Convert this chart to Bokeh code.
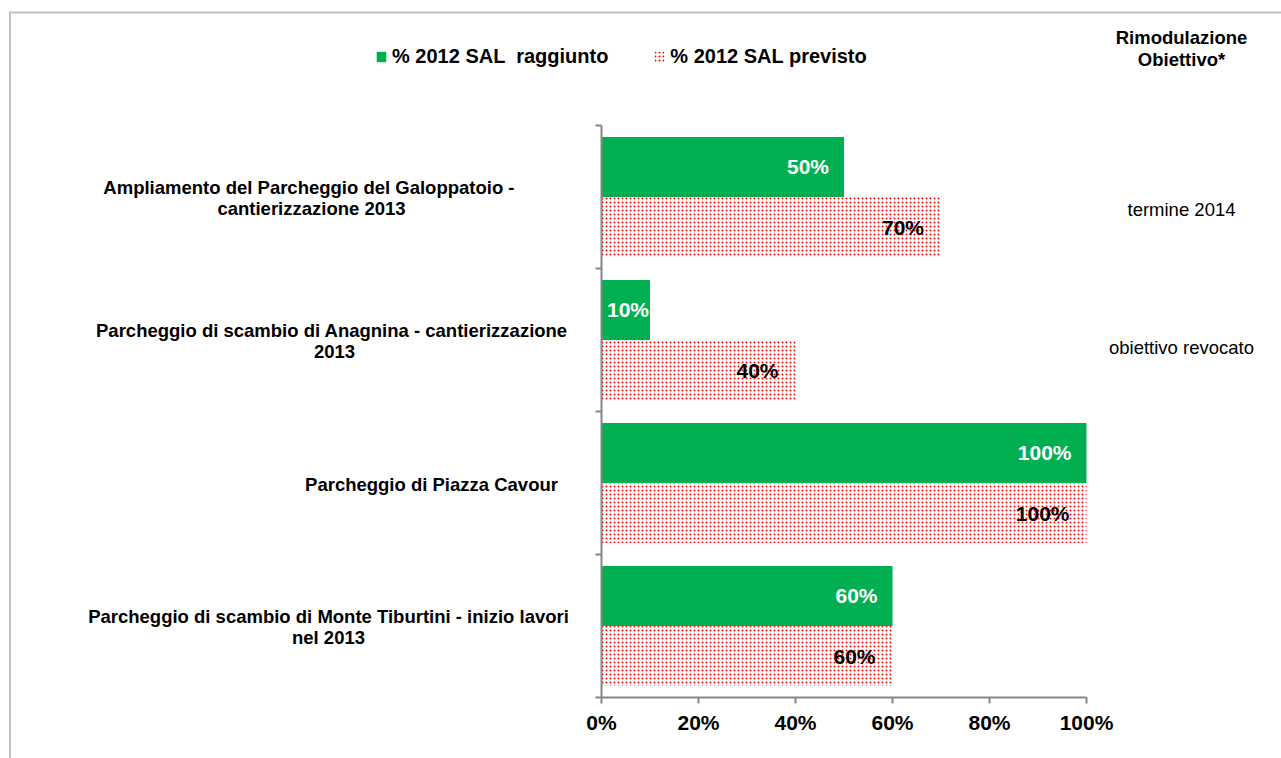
from bokeh.plotting import figure
from bokeh.models import (Range1d, FixedTicker, Legend, LegendItem,
                          ColumnDataSource)
from bokeh.core.properties import value
from bokeh.embed import file_html
from bokeh.resources import INLINE

# ---- data ----
categories = [
    ["Ampliamento del Parcheggio del Galoppatoio  -", "cantierizzazione 2013"],
    ["Parcheggio di scambio di Anagnina  - cantierizzazione", "2013"],
    ["Parcheggio di Piazza Cavour"],
    ["Parcheggio di scambio di Monte Tiburtini - inizio lavori", "nel 2013"],
]
sal_raggiunto = [0.50, 0.10, 1.00, 0.60]
sal_previsto = [0.70, 0.40, 1.00, 0.60]
rimodulazione = ["termine 2014", "obiettivo revocato"]
x_ticks = [0, 0.2, 0.4, 0.6, 0.8, 1.0]
series_names = ["% 2012 SAL  raggiunto", "% 2012 SAL previsto"]
right_header = ["Rimodulazione", "Obiettivo*"]

# ---- layout constants (pixels) ----
FONT = "Liberation Sans"
GREEN = "#00b050"
RED = "#ff0000"
AXIS = "#868686"
FRAME = "#c0c0c0"
W, H = 1281, 758
X0, XPX = 601, 485          # pixel of 0%, pixels per 100%
Y0, YPX = 125, 143          # pixel of top of category band, pixels per band
n = len(categories)

def px_x(px):
    return (px - X0) / XPX

def px_y(py):
    return (py - Y0) / YPX

p = figure(width=W, height=H, output_backend="svg", toolbar_location=None,
           x_range=Range1d(px_x(0), px_x(W)),
           y_range=Range1d(px_y(H), px_y(0)),
           min_border=0, tools="")
p.outline_line_color = None
p.xgrid.visible = False
p.ygrid.visible = False
p.background_fill_color = "white"
p.border_fill_color = "white"

# ---- axes (placed inside the full-canvas frame) ----
xa = p.xaxis[0]
xa.fixed_location = n
xa.bounds = (0, 1)
xa.ticker = FixedTicker(ticks=x_ticks)
xa.major_label_overrides = {t: f"{int(round(t*100))}%" for t in x_ticks}
xa.axis_line_color = AXIS
xa.axis_line_width = 2
xa.major_tick_line_color = AXIS
xa.major_tick_line_width = 2
xa.major_tick_out = 6
xa.major_tick_in = 0
xa.minor_tick_line_color = None
xa.major_label_text_font = FONT
xa.major_label_text_font_style = "bold"
xa.major_label_text_font_size = "21px"
xa.major_label_text_color = "black"
xa.major_label_standoff = 7

ya = p.yaxis[0]
ya.fixed_location = 0
ya.bounds = (0, n)
ya.ticker = FixedTicker(ticks=list(range(n + 1)))
ya.major_label_overrides = {i: "" for i in range(n + 1)}
ya.axis_line_color = AXIS
ya.axis_line_width = 2
ya.major_tick_line_color = AXIS
ya.major_tick_line_width = 2
ya.major_tick_out = 6
ya.major_tick_in = 0
ya.minor_tick_line_color = None
ya.major_label_text_font_size = "1px"

# ---- bars ----
bar_h = 0.42
y_green = [i + 0.5 - bar_h / 2 for i in range(n)]
y_red = [i + 0.5 + bar_h / 2 for i in range(n)]

def pct(v):
    return f"{int(round(v * 100))}%"

src_g = ColumnDataSource(dict(y=y_green, v=sal_raggiunto,
                              t=[pct(v) for v in sal_raggiunto],
                              off=[-15 if v * XPX > 60 else -1 for v in sal_raggiunto]))
src_r = ColumnDataSource(dict(y=y_red, v=sal_previsto,
                              t=[pct(v) for v in sal_previsto],
                              off=[-17 if v * XPX > 60 else -1 for v in sal_previsto]))

g = p.hbar(y="y", left=0, right="v", height=bar_h, source=src_g,
           fill_color=GREEN, line_color=None)
r = p.hbar(y="y", left=0, right="v", height=bar_h, source=src_r,
           fill_color="white", line_color=None,
           hatch_pattern="dot", hatch_color=RED, hatch_scale=4, hatch_weight=1)

p.text(x="v", y="y", text="t", source=src_g, x_offset="off",
       text_align="right", text_baseline="middle", text_color="white",
       text_font=value(FONT), text_font_style="bold", text_font_size="21px")
p.text(x="v", y="y", text="t", source=src_r, x_offset="off",
       text_align="right", text_baseline="middle", text_color="black",
       text_font=value(FONT), text_font_style="bold", text_font_size="21px")

# ---- category labels (left of the axis) ----
label_cx = [311, 334, 431, 328]
line_h = 21
cx, cy, ct = [], [], []
for i, lines in enumerate(categories):
    mid = Y0 + (i + 0.5) * YPX + 1
    k = len(lines)
    for j, line in enumerate(lines):
        cx.append(px_x(label_cx[i]))
        cy.append(px_y(mid + (j - (k - 1) / 2) * line_h))
        ct.append(line)
p.text(x=cx, y=cy, text=ct, text_align="center", text_baseline="middle",
       text_font=value(FONT), text_font_style="bold", text_font_size="18.5px",
       text_color="black")

# ---- right-hand column ----
RIGHT_CX = 1181
p.text(x=[px_x(RIGHT_CX)] * 2, y=[px_y(37), px_y(59)], text=right_header,
       text_align="center", text_baseline="middle", text_font=value(FONT),
       text_font_style="bold", text_font_size="18.5px", text_color="black")
right_py = [209, 347]
p.text(x=[px_x(RIGHT_CX)] * len(rimodulazione), y=[px_y(v) for v in right_py],
       text=rimodulazione, text_align="center", text_baseline="middle",
       text_font=value(FONT), text_font_size="18.5px", text_color="black")

# ---- legend ----
legend = Legend(items=[LegendItem(label=series_names[0], renderers=[g]),
                       LegendItem(label=series_names[1], renderers=[r])],
                orientation="horizontal", location=(375, H - 68),
                padding=0, margin=0, spacing=45, label_standoff=5,
                glyph_width=12, glyph_height=13,
                border_line_color=None, background_fill_alpha=0,
                label_text_font=FONT, label_text_font_style="bold",
                label_text_font_size="20px", label_text_color="black")
p.add_layout(legend)

# ---- outer chart border ----
p.segment(x0=[px_x(9), px_x(9.5)], y0=[px_y(12), px_y(11)],
          x1=[px_x(W + 5), px_x(9.5)], y1=[px_y(12), px_y(H + 5)],
          line_color=FRAME, line_width=2)

open("out.html", "w").write(file_html(p, INLINE))
